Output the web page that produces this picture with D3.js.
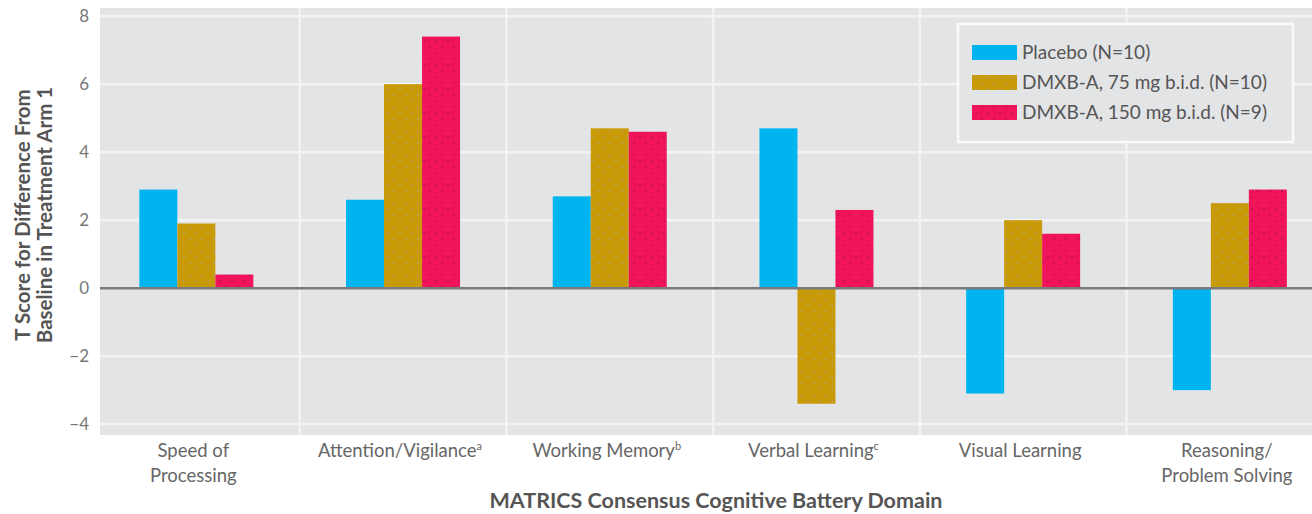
<!DOCTYPE html>
<html><head><meta charset="utf-8">
<script src="https://cdn.jsdelivr.net/npm/d3@7"></script>
<style>body{margin:0;background:#fff}svg{display:block}text{font-family:Lato,"Open Sans",sans-serif}</style>
</head><body><svg id="c" width="1312" height="514"></svg>
<script>
const categories = ["Speed of Processing","Attention/Vigilance","Working Memory","Verbal Learning","Visual Learning","Reasoning/ Problem Solving"];
const categoryLines = [["Speed of","Processing"],["Attention/Vigilance"],["Working Memory"],["Verbal Learning"],["Visual Learning"],["Reasoning/","Problem Solving"]];
const categorySup = ["","a","b","c","",""];
const seriesNames = ["Placebo (N=10)","DMXB-A, 75 mg b.i.d. (N=10)","DMXB-A, 150 mg b.i.d. (N=9)"];
const placebo = [2.9, 2.6, 2.7, 4.7, -3.1, -3.0];
const dmxb75 = [1.9, 6.0, 4.7, -3.4, 2.0, 2.5];
const dmxb150 = [0.4, 7.4, 4.6, 2.3, 1.6, 2.9];
const yTicks = [-4,-2,0,2,4,6,8];
const seriesValues = [placebo, dmxb75, dmxb150];
const colors = ["#00b4f0","#c99a08","#f0155a"];

const svg = d3.select("#c");
const L = 100, R = 1312, T = 8, B = 435;
const y = d3.scaleLinear().domain([-4.32, 8.24]).range([B, T]);
const x0 = d3.scaleBand().domain(categories).range([93, 93 + 6*206.7]).padding(0);
const x1 = d3.scaleBand().domain(seriesNames).range([x0.bandwidth()/2 - 57, x0.bandwidth()/2 + 57]).padding(0);

const defs = svg.append("defs");
defs.append("clipPath").attr("id","clip").append("rect").attr("x",L).attr("y",T).attr("width",R-L).attr("height",B-T);
[1,2].forEach(i=>{
  const p = defs.append("pattern").attr("id","dots"+i).attr("patternUnits","userSpaceOnUse").attr("width",12).attr("height",12);
  p.append("rect").attr("width",12).attr("height",12).attr("fill",colors[i]);
  p.append("rect").attr("x",3).attr("y",4).attr("width",2).attr("height",2).attr("fill", i===1?"#b8a070":"#b0104a").attr("opacity",0.6);
  p.append("rect").attr("x",9).attr("y",10).attr("width",2).attr("height",2).attr("fill", i===1?"#b8a070":"#b0104a").attr("opacity",0.6);
});
const fills = [colors[0], "url(#dots1)", "url(#dots2)"];

const g = svg.append("g").attr("clip-path","url(#clip)");
g.append("rect").attr("x",L).attr("y",T).attr("width",R-L).attr("height",B-T).attr("fill","#e3e4e6");
g.selectAll("line.h").data(yTicks.filter(d=>d!==0)).enter().append("line")
  .attr("x1",L).attr("x2",R).attr("y1",d=>y(d)).attr("y2",d=>y(d)).attr("stroke","#f3f3f4").attr("stroke-width",2.5);
g.selectAll("line.v").data(categories.slice(1)).enter().append("line")
  .attr("x1",d=>x0(d)).attr("x2",d=>x0(d)).attr("y1",T).attr("y2",B).attr("stroke","#f3f3f4").attr("stroke-width",2.5);
categories.forEach((c,ci)=>{
  seriesNames.forEach((s,si)=>{
    const v = seriesValues[si][ci];
    g.append("rect").attr("x",x0(c)+x1(s)).attr("width",x1.bandwidth())
      .attr("y",y(Math.max(0,v))).attr("height",Math.abs(y(v)-y(0)))
      .attr("fill",fills[si]);
  });
});
g.append("line").attr("x1",L).attr("x2",R).attr("y1",y(0)).attr("y2",y(0)).attr("stroke","#7a7a7c").attr("stroke-width",2.5);

svg.selectAll("text.yt").data(yTicks).enter().append("text")
  .attr("x",89).attr("y",d=>y(d)+6).attr("text-anchor","end").attr("font-size",17).attr("fill","#777")
  .text(d=>d<0?"\u2212"+Math.abs(d):d);
const yt = svg.append("text").attr("transform","translate(0,215) rotate(-90)").attr("text-anchor","middle")
  .attr("font-size",20.5).attr("font-weight","bold").attr("fill","#555");
yt.append("tspan").attr("x",0).attr("y",30).text("T Score for Difference From");
yt.append("tspan").attr("x",0).attr("y",52).text("Baseline in Treatment Arm 1");

categories.forEach((c,ci)=>{
  const cx = x0(c)+x0.bandwidth()/2 - 3;
  const t = svg.append("text").attr("x",cx).attr("y",457).attr("text-anchor","middle").attr("font-size",18.5).attr("fill","#666");
  categoryLines[ci].forEach((ln,li)=>{
    t.append("tspan").attr("x",cx).attr("dy",li===0?0:25).text(ln);
  });
  if(categorySup[ci]) t.append("tspan").attr("font-size",11).attr("dy",-7).text(categorySup[ci]);
});
svg.append("text").attr("x",716).attr("y",508).attr("text-anchor","middle").attr("font-size",21.5).attr("font-weight","bold").attr("fill","#555")
  .text("MATRICS Consensus Cognitive Battery Domain");

const lg = svg.append("g");
lg.append("rect").attr("x",958).attr("y",24).attr("width",335).attr("height",118).attr("fill","#e3e4e6").attr("stroke","#fafafa").attr("stroke-width",2.5);
seriesNames.forEach((s,i)=>{
  const yy = 45 + i*30;
  lg.append("rect").attr("x",972).attr("y",yy).attr("width",45).attr("height",15).attr("fill",fills[i]);
  lg.append("text").attr("x",1022).attr("y",yy+14).attr("font-size",19).attr("fill","#555").text(s);
});
</script></body></html>
